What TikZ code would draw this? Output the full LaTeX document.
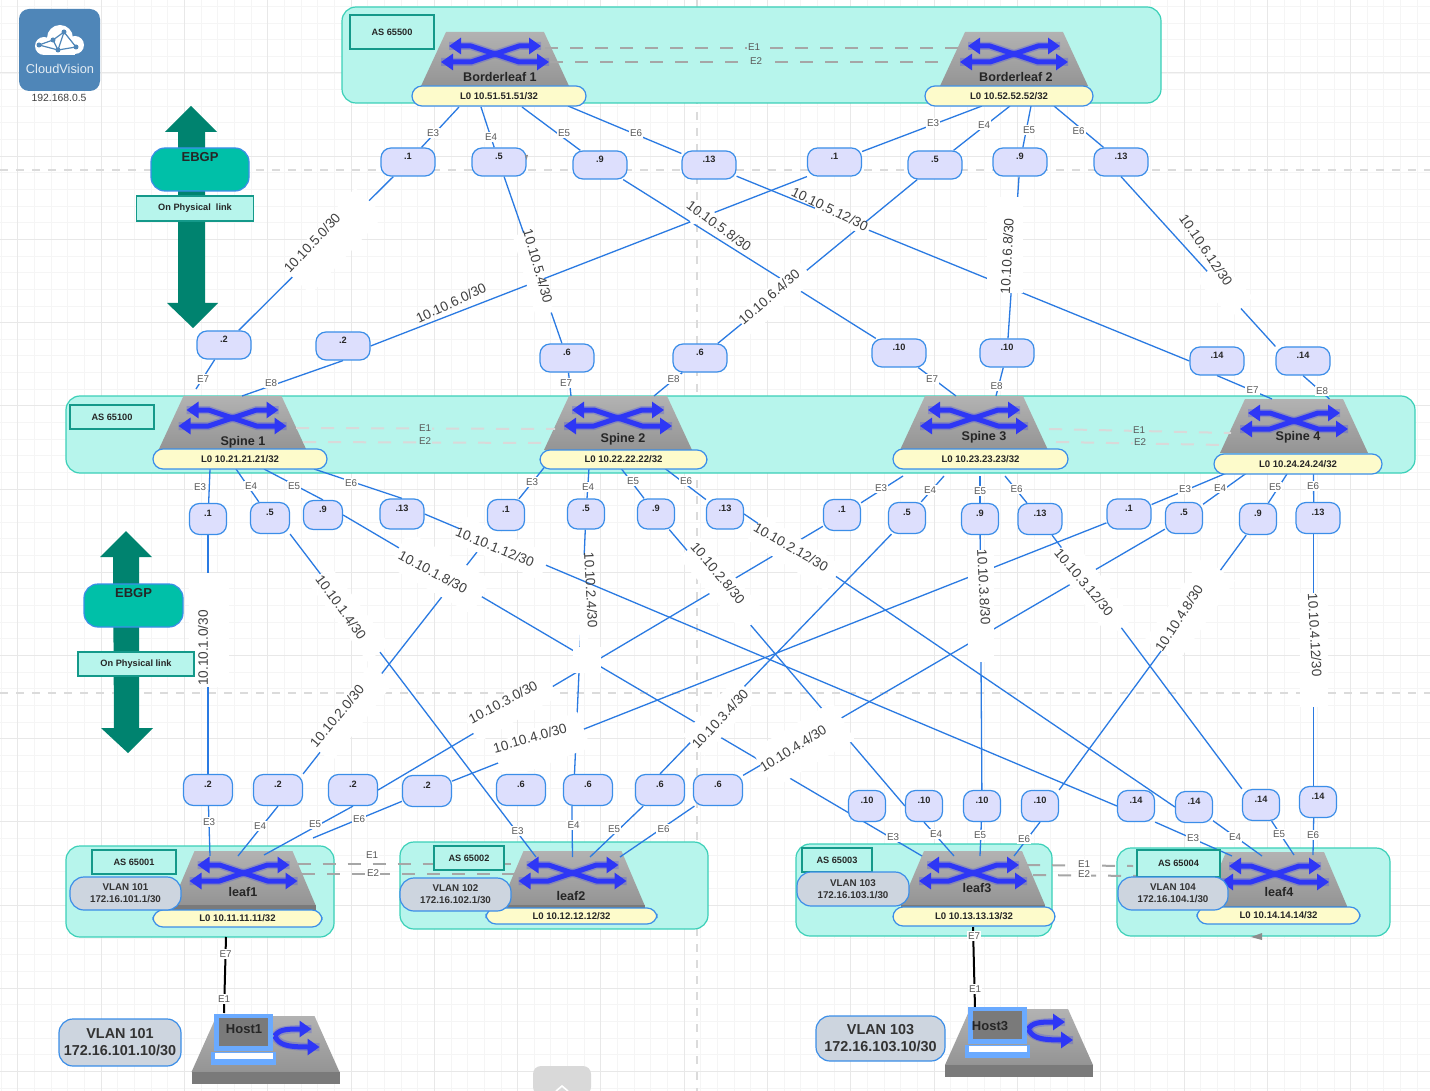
\documentclass[tikz,border=0pt]{standalone}
\usepackage{fontspec}
\setmainfont{Liberation Sans}
\usetikzlibrary{arrows.meta,calc}
\pgfdeclarelayer{baselayer}
\pgfdeclarelayer{linklayer}
\pgfsetlayers{baselayer,linklayer,main}
\definecolor{asfill}{HTML}{B7F5EC}
\definecolor{asedge}{HTML}{3BD0B8}
\definecolor{asbord}{HTML}{14998A}
\definecolor{lofill}{HTML}{FDFBCB}
\definecolor{blueedge}{HTML}{3B8EE8}
\definecolor{portfill}{HTML}{DDDFFD}
\definecolor{vlanfill}{HTML}{CDD5DF}
\definecolor{ebgpfill}{HTML}{00C0A8}
\definecolor{ebgparrow}{HTML}{00836F}
\definecolor{linkblue}{HTML}{2A7AE2}
\definecolor{swblue}{HTML}{2E37F5}
\definecolor{cvblue}{HTML}{4F86B8}
\definecolor{laptopblue}{HTML}{6AAAFF}
\newcommand{\swarrows}{
	\draw[swglow] (-46,14)--(-24,14)--(24,30)--(54,30);
	\draw[swglow] (-54,30)--(-24,30)--(24,14)--(46,14);
	\draw[swarrow] (-46,14)--(-24,14)--(24,30)--(54,30);
	\draw[swarrow] (-54,30)--(-24,30)--(24,14)--(46,14);
}
\tikzset{
	sized/.style 2 args={minimum width=#1*.5pt,minimum height=#2*.5pt,inner sep=0pt},
	aslabel/.style={draw=asbord,fill=asfill,line width=.6pt,font=\fontsize{4.6}{5}\selectfont\bfseries,text=black!85},
	loopback/.style={draw=blueedge,fill=lofill,line width=.6pt,rounded corners=5pt,font=\fontsize{4.8}{5}\selectfont\bfseries,text=black!85},
	portbox/.style={draw=blueedge,fill=portfill,line width=.6pt,rounded corners=5pt,font=\fontsize{4.6}{5}\selectfont\bfseries,text=black!85,text height=3.5pt,text depth=5.6pt},
	vlanbox/.style={draw=blueedge,fill=vlanfill,line width=.6pt,rounded corners=7pt,align=center,font=\fontsize{4.9}{6}\selectfont\bfseries,text=black!80},
	hostvlan/.style={draw=blueedge,fill=vlanfill,line width=.6pt,rounded corners=7pt,align=center,font=\fontsize{7.2}{8.4}\selectfont\bfseries,text=black!80},
	ebgpbox/.style={draw=blueedge,fill=ebgpfill,line width=.6pt,rounded corners=7pt,font=\fontsize{6.5}{7}\selectfont\bfseries,text=black!85,text height=5pt,text depth=12.8pt},
	physbox/.style={draw=asbord,fill=asfill,line width=.6pt,font=\fontsize{4.6}{5}\selectfont\bfseries,text=black!85},
	swname/.style={font=\fontsize{6.3}{7}\selectfont\bfseries,text=black!85,inner sep=0pt},
	linkline/.style={draw=linkblue,line width=.65pt},
	hostline/.style={draw=black,line width=1pt},
	peerline/.style={draw=black!35,line width=1pt,dash pattern=on 6.5pt off 6pt},
	palepeer/.style={draw=black!15,line width=1pt,dash pattern=on 6.5pt off 6pt},
	portlabel/.style={font=\fontsize{4.9}{5}\selectfont,text=black!65,fill=white,inner sep=.6pt},
	peerlabel/.style={font=\fontsize{4.9}{5}\selectfont,text=black!65,inner sep=.6pt},
	subnetlabel/.style={font=\fontsize{6.8}{7}\selectfont,text=black!75,inner sep=0pt},
	gapmask/.style={fill=white,inner sep=0pt},
	gridminor/.style={draw=black!4,line width=.4pt},
	gridmajor/.style={draw=black!9,line width=.5pt},
	guideline/.style={draw=black!14,line width=.8pt,dash pattern=on 4pt off 4pt},
	swglow/.style={draw=swblue,opacity=.25,line width=4pt,line join=round},
	swarrow/.style={draw=swblue,line width=2.5pt,line join=round,{Triangle[length=6pt,width=8pt]}-{Triangle[length=6pt,width=8pt]}},
	hostarrow/.style={draw=swblue,line width=2.5pt,-{Triangle[length=6pt,width=8pt]}},
	switchicon/.pic={
		\shade[top color=black!30,middle color=black!18,bottom color=black!42] (-49,0)--(49,0)--(74,54)--(-74,54)--cycle;
		\swarrows
	},
	leaficon/.pic={
		\shade[top color=black!30,middle color=black!18,bottom color=black!42] (-49,0)--(49,0)--(72,54)--(-72,54)--cycle;
		\fill[black!52] (-72,54)--(72,54)--(72,59)--(-72,59)--cycle;
		\swarrows
	},
	hosticon/.pic={
		\shade[top color=black!30,middle color=black!18,bottom color=black!42] (-49,0)--(49,0)--(74,56)--(-74,56)--cycle;
		\fill[black!52] (-74,56)--(74,56)--(74,68)--(-74,68)--cycle;
		\draw[swglow] (9,20) .. controls (14,14) and (18,13) .. (46,13);
		\draw[swglow] (9,20) .. controls (14,28) and (18,31) .. (54,31);
		\draw[hostarrow] (9,20) .. controls (14,14) and (18,13) .. (46,13);
		\draw[hostarrow] (9,20) .. controls (14,28) and (18,31) .. (54,31);
		\fill[laptopblue] (-51.5,-2) rectangle (7.5,35);
		\fill[black!52] (-46.5,2) rectangle (2.5,30);
		\fill[laptopblue] (-54.5,36) rectangle (10.5,49);
		\fill[white] (-50.5,37) rectangle (7.5,43);
	}
}
\begin{document}
\begin{tikzpicture}[x=.5pt,y=-.5pt]
	\useasboundingbox (0,0) rectangle (1430,1091);
	\begin{pgfonlayer}{baselayer}
		\fill[white] (0,0) rectangle (1430,1091);
		\foreach \gx in {0,...,85} \draw[gridminor] ({\gx*16.66+1.1},0) -- ({\gx*16.66+1.1},1091);
		\foreach \gy in {0,...,65} \draw[gridminor] (0,{\gy*16.64+6.4}) -- (1430,{\gy*16.64+6.4});
		\foreach \gx in {0,...,17} \draw[gridmajor] ({\gx*83.3+17.8},0) -- ({\gx*83.3+17.8},1091);
		\foreach \gy in {0,...,13} \draw[gridmajor] (0,{\gy*83.2-10.2}) -- (1430,{\gy*83.2-10.2});
		\draw[guideline] (0,170) -- (1430,170);
		\draw[guideline] (0,693) -- (1430,693);
		\draw[guideline] (697,0) -- (697,1091);
		\foreach \xa/\ya/\xb/\yb in {342/7/1161/103,66/396/1415/473,66/846/334/937,400/842/708/929,796/844/1052/936,1117/848/1390/936}
			\draw[draw=asedge,fill=asfill,line width=.6pt,rounded corners=7pt] (\xa,\ya) rectangle (\xb,\yb);
		\foreach \cx/\cy in {495/32,1014/32,232.5/396,618/396,974/396,1294/399} \pic at (\cx,\cy) {switchicon};
		\foreach \cx/\cy in {243.5/851,572.5/851,973/851,1275/852} \pic at (\cx,\cy) {leaficon};
	\end{pgfonlayer}

	\foreach \nm/\cx/\cy/\bw/\bh/\tx in {
		b1e3/408/162/54/28/.1,b1e4/499/162/54/28/.5,b1e5/600/165/54/28/.9,b1e6/709/165/54/28/.13,
		b2e3/834.5/162/54/28/.1,b2e4/935/165/54/28/.5,b2e5/1020/162/54/28/.9,b2e6/1121/162/54/28/.13,
		s1e7/224/345/54/28/.2,s1e8/343/346/54/28/.2,s2e7/567/358/54/28/.6,s2e8/700/358/54/28/.6,
		s3e7/899/353/54/28/.10,s3e8/1007/353/54/28/.10,s4e7/1217/361/54/28/.14,s4e8/1303/361/54/28/.14,
		s1e3/208/519/37/31/.1,s1e4/270/518/39/31/.5,s1e5/323/515/39/29/.9,s1e6/402/514/44/30/.13,
		s2e3/506/515/37/31/.1,s2e4/586/514/37/30/.5,s2e5/656/514/37/30/.9,s2e6/725/514/37/30/.13,
		s3e3/842/515/37/31/.1,s3e4/907/518/37/31/.5,s3e5/980/519/37/31/.9,s3e6/1040/519/44/31/.13,
		s4e3/1129/514/44/30/.1,s4e4/1184/518/37/31/.5,s4e5/1258/519/37/31/.9,s4e6/1318/518/44/31/.13,
		l1e3/208/790/49/31/.2,l1e4/278/790/49/31/.2,l1e5/353/790/49/31/.2,l1e6/427/791/49/31/.2,
		l2e3/521/790/49/31/.6,l2e4/588/790/49/31/.6,l2e5/660/790/49/31/.6,l2e6/718/790/49/31/.6,
		l3e3/867/806/37/31/.10,l3e4/924/806/37/31/.10,l3e5/982/806/37/31/.10,l3e6/1040/806/37/31/.10,
		l4e3/1136/806/37/31/.14,l4e4/1194/807/37/31/.14,l4e5/1261/805/37/31/.14,l4e6/1318/802/37/31/.14}
		\node[portbox,sized={\bw}{\bh}] (\nm) at (\cx,\cy) {\tx};

	\coordinate (l2e3x) at (536,857);
	\coordinate (l3e3x) at (922,856);
	\coordinate (l1down) at (226,937);
	\coordinate (h1up) at (224,1013);
	\coordinate (l3down) at (973,927);
	\coordinate (h3up) at (975,1008);

	\begin{pgfonlayer}{linklayer}
		\draw[linkline] (s2e4) -- (l2e4.130);
		\node[gapmask,sized={112}{8},rotate=90] (gapmid) at (584,611) {};
		\foreach \fp/\tp in {b1e3/s1e7,b1e4/s2e7,b1e5/s3e7,b1e6/s4e7.west,b2e3.south west/s1e8.east,b2e4/s2e8,b2e5/s3e8,b2e6.south/s4e8.north west,
			s1e3/l1e3,s1e4.south east/l2e3x,s1e5.east/l3e3x,s1e6.east/l4e3.west,
			s2e3/l1e4.north east,s2e5/l3e4.west,s2e6.east/l4e4.west,
			s3e3/l1e5.east,s3e4/l2e5.north,s3e5/l3e5,s3e6/l4e5.north west,
			s4e3/l1e6,s4e4/l2e6,s4e5/l3e6.north east,s4e6.255/l4e6.105}
			\draw[linkline] (\fp) -- (\tp);
		\foreach \mx/\my/\mw/\mh/\mr [count=\ci] in {333/241/108/40/47,533/274/84/18/-74,842/219/58/12/-23,775/298/84/24/41,1005/245/96/36/90,1225/289/50/30/-47,702/216/26/10/20,
			209/630/114/40/90,349/614/98/28/-53,440/573/96/40/-30,502/548/94/28/-24,587/660/28/26/0,351/713/100/30/52,512/708/92/26/30,541/746/92/38/21,
			720/717/78/30/47,803/745/94/44/31,722/585/98/30/-49,795/553/94/30/-33,981/606/112/26/90,1091/588/100/30/-53,1190/610/100/40/55,1314/650/114/28/90}
			\node[gapmask,sized={\mw}{\mh},rotate=\mr] (gap\ci) at (\mx,\my) {};
		\foreach \sa/\ex/\ey/\lx/\ly/\et [count=\ci] in {
			b1e3/459/107/433/133/E3,b1e4/481/107/491/137/E4,b1e5/522/107/564/133/E5,b1e6/568/106/636/133/E6,
			b2e3/982/106/933/123/E3,b2e4/1010/106/984/125/E4,b2e5/1031/106/1029/130/E5,b2e6/1054/106/1078.5/131/E6,
			s1e7/196/389/203/379/E7,s1e8.south/242/396/271/383/E8,s2e7/571/396/566/383/E7,s2e8/654/396/673.5/379/E8,
			s3e7/956/396/932/379/E7,s3e8/996/396/996.5/386/E8,s4e7.south/1272/399/1252.5/390/E7,s4e8.south/1329.5/399/1322/391/E8,
			s1e3/210/469/200/487/E3,s1e4/236/469/251/486/E4,s1e5.north/264/469/294/486/E5,s1e6.north/314/469/351/483/E6,
			s2e3/551/459/532/482/E3,s2e4/589/468/588/487/E4,s2e5/620/467/633/481/E5,s2e6/663/467/686/481/E6,
			s3e3/903/476/881/488/E3,s3e4/944/476/930/490/E4,s3e5/980/476/980/491/E5,s3e6/1005/476/1016.5/489/E6,
			s4e3/1229/472/1185/489/E3,s4e4/1248/472/1220/488/E4,s4e5/1287/474/1275/487/E5,s4e6.105/1313.5/474/1313/486/E6,
			l1e3/210/856/209/822/E3,l1e4.south/238/856/260/826/E4,l1e5.south/264/855/315/824/E5,l1e6/313/838/359/819/E6,
			l2e4.225/572.5/857/573.5/825/E4,l2e5/590/857/614/829/E5,l2e6/620/857/663.5/829/E6,
			l3e4.south/954/856/936/834/E4,l3e5/980/856/980/835/E5,l3e6.south/1014/856/1024/839/E6,
			l4e3.south east/1232/856/1193/838/E3,l4e4/1262/856/1235/837/E4,l4e5/1294/855/1279/834/E5,l4e6.255/1313/855/1313/835/E6}
			{
			\coordinate (swend\ci) at (\ex,\ey);
			\draw[linkline] (\sa) -- (swend\ci);
			\node[portlabel] (eth\ci) at (\lx,\ly) {\et};
			}
		\node[portlabel] (ethl2) at (517.5,831) {E3};
		\node[portlabel] (ethl3) at (893,837) {E3};
		\draw[hostline] (l1down) -- (h1up);
		\draw[hostline] (l3down) -- (h3up);
		\node[portlabel] (ethh1a) at (225.5,954) {E7};
		\node[portlabel] (ethh1b) at (224,999) {E1};
		\node[portlabel] (ethh3a) at (974,936) {E7};
		\node[portlabel] (ethh3b) at (975,989) {E1};
		\foreach \pa/\pb/\qa/\qb/\stl in {545/48/959/48/peerline,550/62/948/62/peerline,296/428/555/429/palepeer,303/442/546/443/palepeer,1049/429/1231/433/palepeer,1056/442/1224/445/palepeer,297.5/864/519/864/peerline,302/874/516.5/874/peerline,1027/865/1133/866/peerline,1033/875/1137.5/876/peerline}
			\draw[\stl] (\pa,\pb) -- (\qa,\qb);
		\foreach \lx/\ly/\et/\ff [count=\ci] in {754/47/E1/asfill,756/61/E2/asfill,425/428/E1/asfill,425/441/E2/asfill,1139/430/E1/asfill,1140/442/E2/asfill,372/855.5/E1/white,373/873/E2/white,1084/864/E1/white,1084/874/E2/white}
			\node[peerlabel,fill=\ff] (peer\ci) at (\lx,\ly) {\et};
	\end{pgfonlayer}

	\foreach \nm/\cx/\cy/\rt/\tx in {
		n1/312/243/47/{10.10.5.0/30},n2/538/266/-74/{10.10.5.4/30},n3/719/226/-36/{10.10.5.8/30},n4/830/209/-26/{10.10.5.12/30},
		n5/451/303/25/{10.10.6.0/30},n6/769/297/41/{10.10.6.4/30},n7/1007/256/87/{10.10.6.8/30},n8/1206/250/-56/{10.10.6.12/30},
		n9/203/648/90/{10.10.1.0/30},n10/341/607/-54/{10.10.1.4/30},n11/433/572/-28/{10.10.1.8/30},n12/495/547/-22/{10.10.1.12/30},
		n13/337/716/50/{10.10.2.0/30},n14/591/590/-87/{10.10.2.4/30},n15/718/573/-50/{10.10.2.8/30},n16/791/547/-30/{10.10.2.12/30},
		n17/503/702/28/{10.10.3.0/30},n18/720/719/47/{10.10.3.4/30},n19/984/587/-87/{10.10.3.8/30},n20/1084/582/-50/{10.10.3.12/30},
		n21/530/738/16/{10.10.4.0/30},n22/793/748/32/{10.10.4.4/30},n23/1179/618/57/{10.10.4.8/30},n24/1315/635/-87/{10.10.4.12/30}}
		\node[subnetlabel,rotate=\rt] (\nm) at (\cx,\cy) {\tx};

	\foreach \nm/\cx/\cy/\bw/\bh/\tx in {
		as500/392/32/84/34/AS 65500,as100/112/417/84/24/AS 65100,as001/134/862/84/24/AS 65001,as002/469/858/70/24/AS 65002,as003/837/860/70/24/AS 65003,as004/1178.5/863.5/83/27/AS 65004}
		\node[aslabel,sized={\bw}{\bh}] (\nm) at (\cx,\cy) {\tx};

	\foreach \nm/\cx/\cy/\bw/\bh/\tx in {
		lob1/499/96/174/20/{L0 10.51.51.51/32},lob2/1009/96/168/20/{L0 10.52.52.52/32},
		los1/240/459/174/20/{L0 10.21.21.21/32},los2/623.5/459.5/167/19/{L0 10.22.22.22/32},los3/980.5/459/175/20/{L0 10.23.23.23/32},los4/1298/464/168/20/{L0 10.24.24.24/32},
		lol1/237.5/918.5/169/17/{L0 10.11.11.11/32},lol2/571.5/916/171/16/{L0 10.12.12.12/32},lol3/974/916.5/162/19/{L0 10.13.13.13/32},lol4/1278.5/915.5/163/17/{L0 10.14.14.14/32}}
		\node[loopback,sized={\bw}{\bh}] (\nm) at (\cx,\cy) {\tx};

	\foreach \nm/\cx/\cy/\bw/\bh/\tx in {
		vlan1/125.5/893.5/111/33/{VLAN 101\\172.16.101.1/30},vlan2/455.5/894.5/111/33/{VLAN 102\\172.16.102.1/30},
		vlan3/853/889/112/34/{VLAN 103\\172.16.103.1/30},vlan4/1173/893.5/110/33/{VLAN 104\\172.16.104.1/30}}
		\node[vlanbox,sized={\bw}{\bh}] (\nm) at (\cx,\cy) {\tx};

	\foreach \nm/\cx/\cy/\tx in {
		blf1/500/77/Borderleaf 1,blf2/1016/77/Borderleaf 2,spn1/243/442/Spine 1,spn2/623/439/Spine 2,spn3/984/437/Spine 3,spn4/1298/437/Spine 4,
		lf1/243/892/leaf1,lf2/571/896/leaf2,lf3/977/888/leaf3,lf4/1279/892/leaf4}
		\node[swname] (\nm) at (\cx,\cy) {\tx};

	\pic at (265.5,1016) {hosticon};
	\pic at (1019,1009) {hosticon};
	\node[swname,font=\fontsize{6.5}{7}\selectfont\bfseries] (host1) at (244,1029) {Host1};
	\node[swname,font=\fontsize{6.5}{7}\selectfont\bfseries] (host3) at (990,1026) {Host3};
	\node[hostvlan,sized={122}{47}] (hv101) at (120,1042.5) {VLAN 101\\172.16.101.10/30};
	\node[hostvlan,sized={129}{45}] (hv103) at (880.5,1038.5) {VLAN 103\\172.16.103.10/30};

	\fill[ebgparrow] (191,106)--(217,132)--(205,132)--(205,303)--(218,303)--(193,328)--(167,303)--(178,303)--(178,132)--(165,132)--cycle;
	\fill[ebgparrow] (126,531)--(152,557)--(139,557)--(139,728)--(153,728)--(128,753)--(101,728)--(114,728)--(113,557)--(100,557)--cycle;
	\node[ebgpbox,sized={98}{43}] (ebgp1) at (200,169.5) {EBGP};
	\node[physbox,sized={117}{25}] (phys1) at (195,208.5) {On Physical\ \ link};
	\node[ebgpbox,sized={99}{43}] (ebgp2) at (133.5,605.5) {EBGP};
	\node[physbox,sized={116}{24}] (phys2) at (136,664) {On Physical link};

	\fill[cvblue,rounded corners=5pt] (19,9) rectangle (100,91);
	\fill[white] (44,46) circle (9);
	\fill[white] (60,38) circle (13);
	\fill[white] (75,45) circle (9);
	\fill[white] (44,44) rectangle (75,55);
	\draw[cvblue,line width=.6pt] (39,45)--(53,40)--(64,32)--(76,47)--(58,50)--(39,45);
	\draw[cvblue,line width=.6pt] (53,40)--(58,50)--(64,32);
	\foreach \cx/\cy in {39/45,53/40,64/32,76/47,58/50} \fill[cvblue] (\cx,\cy) circle (2.5);
	\node[font=\fontsize{6.4}{7}\selectfont,text=white!85!cvblue,inner sep=0pt] (cvname) at (60,69) {CloudVision};
	\node[font=\fontsize{5.2}{6}\selectfont,text=black!75,inner sep=0pt] (cvaddr) at (59,98) {192.168.0.5};

	\fill[black!15,rounded corners=4pt] (533,1095) rectangle (591,1066);
	\draw[white,line width=.8pt] (556,1091)--(562,1086)--(568,1091);
	\fill[black!45] (1251,937)--(1262,933)--(1262,940)--cycle;
	\fill[black!45] (525,155)--(528,155)--(526.5,160)--cycle;
\end{tikzpicture}
\end{document}
